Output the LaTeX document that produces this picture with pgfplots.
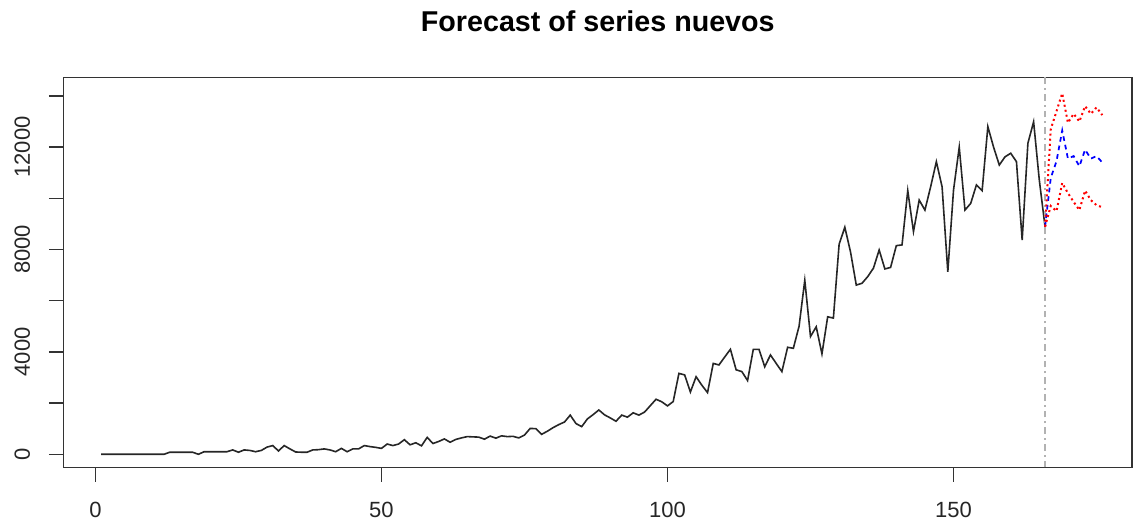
\documentclass[border=0pt]{standalone}
\usepackage{fontspec}
\setmainfont{Liberation Sans}
\usepackage{pgfplots}
\pgfplotsset{compat=1.18}
\begin{document}
\begin{tikzpicture}
\begin{axis}[
 scale only axis,
 width=801.3pt, height=292.5pt,
 xmin=-5.56, xmax=181.2, ymin=-510, ymax=14726,
 scaled y ticks=false, scaled x ticks=false,
 axis line style={line width=1.1pt, color=black!80},
 xtick={0,50,100,150}, xticklabels={0,50,100,150},
 ytick={0,2000,4000,6000,8000,10000,12000,14000}, yticklabels={0,,4000,,8000,,12000,},
 tick align=outside, xtick pos=bottom, ytick pos=left,
 major tick length=11pt,
 tick style={line width=1.1pt, color=black!80},
 ticklabel style={font=\fontsize{16.5}{19}\selectfont, text=black!85},
 yticklabel style={rotate=90, anchor=south, inner sep=0pt},
 xticklabel style={anchor=north, inner sep=0pt},
 xticklabel shift=15pt, yticklabel shift=14pt,
 title={Forecast of series nuevos},
 title style={font=\bfseries\fontsize{21.5}{25}\selectfont, at={(0.5,1)}, anchor=base, yshift=28.5pt},
]
\addplot[black!85, line width=1.2pt] coordinates {
(1,0)(2,0)(3,0)(4,0)(5,0)(6,0)(7,0)(8,0)(9,0)(10,0)(11,0)(12,0)
(13,80)(14,80)(15,80)(16,80)(17,80)(18,0)(19,100)(20,100)(21,100)(22,100)(23,100)
(24,170)(25,80)(26,170)(27,150)(28,100)(29,150)(30,280)(31,340)(32,130)(33,340)
(34,210)(35,90)(36,80)(37,80)(38,170)(39,180)(40,210)(41,170)(42,100)(43,230)
(44,100)(45,210)(46,210)(47,340)(48,300)(49,270)(50,230)(51,400)(52,340)(53,400)
(54,570)(55,370)(56,450)(57,330)(58,660)(59,420)(60,500)(61,600)(62,470)(63,580)
(64,640)(65,690)(66,680)(67,670)(68,590)(69,710)(70,630)(71,720)(72,690)(73,700)
(74,640)(75,750)(76,1010)(77,1000)(78,780)(79,900)(80,1040)(81,1160)(82,1260)
(83,1530)(84,1200)(85,1080)(86,1380)(87,1550)(88,1730)(89,1540)(90,1420)(91,1290)
(92,1530)(93,1450)(94,1620)(95,1530)(96,1650)(97,1900)(98,2150)(99,2050)(100,1890)
(101,2060)(102,3160)(103,3100)(104,2430)(105,3030)(106,2700)(107,2410)(108,3550)
(109,3490)(110,3800)(111,4100)(112,3300)(113,3230)(114,2880)(115,4100)(116,4100)
(117,3420)(118,3880)(119,3550)(120,3230)(121,4180)(122,4140)(123,5000)(124,6800)
(125,4600)(126,4980)(127,3920)(128,5370)(129,5320)(130,8200)(131,8870)(132,7900)
(133,6610)(134,6680)(135,6940)(136,7270)(137,7980)(138,7240)(139,7300)(140,8150)
(141,8180)(142,10300)(143,8700)(144,9930)(145,9540)(146,10450)(147,11430)(148,10450)
(149,7130)(150,10320)(151,12000)(152,9540)(153,9800)(154,10520)(155,10300)(156,12800)
(157,12000)(158,11300)(159,11620)(160,11760)(161,11430)(162,8370)(163,12150)(164,12990)
(165,10700)(166,8890)
};
\addplot[gray!60, line width=1pt, dash pattern=on 5pt off 3pt on 1.5pt off 3pt] coordinates {(166,-510)(166,14726)};
\addplot[blue, line width=1.3pt, dash pattern=on 3.5pt off 3pt] coordinates {
(166,8890)(167,10800)(168,11450)(169,12650)(170,11550)(171,11650)(172,11250)(173,11900)(174,11550)(175,11650)(176,11400)};
\addplot[red, line width=1.5pt, dash pattern=on 1.5pt off 2.3pt] coordinates {
(166,8890)(167,12700)(168,13400)(169,14100)(170,12950)(171,13300)(172,13000)(173,13600)(174,13300)(175,13550)(176,13250)};
\addplot[red, line width=1.5pt, dash pattern=on 1.5pt off 2.3pt] coordinates {
(166,8890)(167,9700)(168,9500)(169,10600)(170,10200)(171,9860)(172,9540)(173,10300)(174,9930)(175,9730)(176,9650)};
\end{axis}
\path[use as bounding box] (current axis.south west) ++(-47.7pt,-47pt) rectangle ([shift={(0.75pt,58pt)}]current axis.north east);
\end{tikzpicture}
\end{document}
